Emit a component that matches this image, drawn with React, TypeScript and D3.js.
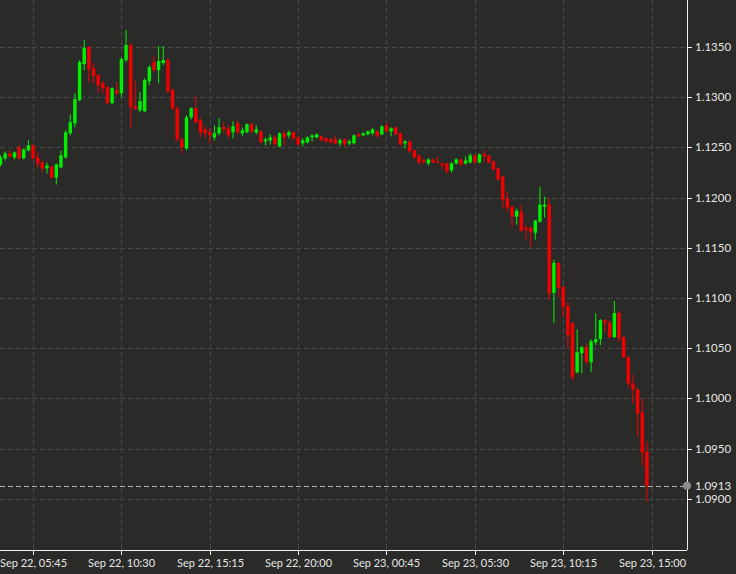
import * as d3 from 'd3';

// GBP/USD 15 min candles, Sep 22 04:00 - Sep 23 14:45 (UTC)
const START = Date.UTC(2022, 8, 22, 4, 0);
const STEP = 15 * 60 * 1000;

const open = [
  1.1233, 1.1239, 1.1244, 1.1240, 1.1250, 1.1239, 1.1247, 1.1252, 1.1240, 1.1235,
  1.1229, 1.1231, 1.1220, 1.1230, 1.1240, 1.1264, 1.1274, 1.1297, 1.1333, 1.1350,
  1.1329, 1.1322, 1.1314, 1.1310, 1.1294, 1.1307, 1.1304, 1.1337, 1.1352, 1.1291,
  1.1287, 1.1286, 1.1316, 1.1335, 1.1327, 1.1334, 1.1337, 1.1307, 1.1289, 1.1258,
  1.1249, 1.1280, 1.1289, 1.1277, 1.1268, 1.1265, 1.1260, 1.1264, 1.1270, 1.1269,
  1.1265, 1.1274, 1.1264, 1.1265, 1.1273, 1.1265, 1.1266, 1.1256, 1.1257, 1.1260,
  1.1251, 1.1264, 1.1262, 1.1265, 1.1260, 1.1254, 1.1255, 1.1260, 1.1260, 1.1261,
  1.1259, 1.1258, 1.1258, 1.1254, 1.1258, 1.1254, 1.1254, 1.1263, 1.1262, 1.1263,
  1.1264, 1.1266, 1.1263, 1.1272, 1.1266, 1.1270, 1.1264, 1.1254, 1.1256, 1.1247,
  1.1242, 1.1237, 1.1234, 1.1238, 1.1236, 1.1234, 1.1234, 1.1227, 1.1234, 1.1238,
  1.1234, 1.1235, 1.1242, 1.1235, 1.1243, 1.1242, 1.1236, 1.1229, 1.1221, 1.1199,
  1.1191, 1.1181, 1.1186, 1.1170, 1.1170, 1.1165, 1.1176, 1.1191, 1.1193, 1.1105,
  1.1135, 1.1111, 1.1092, 1.1075, 1.1026, 1.1045, 1.1051, 1.1036, 1.1056, 1.1059,
  1.1078, 1.1075, 1.1061, 1.1085, 1.1061, 1.1041, 1.1015, 1.1009, 1.0986, 1.0947,
];
const high = [
  1.1242, 1.1246, 1.1247, 1.1246, 1.1252, 1.1249, 1.1257, 1.1253, 1.1245, 1.1237,
  1.1235, 1.1232, 1.1234, 1.1247, 1.1267, 1.1283, 1.1304, 1.1337, 1.1357, 1.1351,
  1.1334, 1.1323, 1.1316, 1.1311, 1.1310, 1.1315, 1.1340, 1.1367, 1.1354, 1.1316,
  1.1305, 1.1319, 1.1332, 1.1341, 1.1351, 1.1351, 1.1339, 1.1309, 1.1291, 1.1260,
  1.1282, 1.1290, 1.1301, 1.1279, 1.1271, 1.1269, 1.1272, 1.1279, 1.1275, 1.1272,
  1.1276, 1.1277, 1.1270, 1.1274, 1.1275, 1.1272, 1.1267, 1.1260, 1.1263, 1.1262,
  1.1265, 1.1266, 1.1267, 1.1266, 1.1261, 1.1259, 1.1261, 1.1263, 1.1264, 1.1262,
  1.1260, 1.1259, 1.1262, 1.1259, 1.1259, 1.1258, 1.1263, 1.1264, 1.1265, 1.1267,
  1.1269, 1.1267, 1.1272, 1.1275, 1.1270, 1.1271, 1.1265, 1.1257, 1.1257, 1.1248,
  1.1243, 1.1239, 1.1239, 1.1239, 1.1241, 1.1235, 1.1235, 1.1235, 1.1239, 1.1239,
  1.1241, 1.1244, 1.1243, 1.1244, 1.1247, 1.1243, 1.1237, 1.1230, 1.1222, 1.1206,
  1.1192, 1.1189, 1.1193, 1.1173, 1.1171, 1.1178, 1.1211, 1.1201, 1.1199, 1.1138,
  1.1136, 1.1112, 1.1096, 1.1076, 1.1069, 1.1052, 1.1055, 1.1059, 1.1085, 1.1079,
  1.1079, 1.1078, 1.1097, 1.1087, 1.1062, 1.1042, 1.1024, 1.1010, 1.0999, 1.0957,
];
const low = [
  1.1231, 1.1237, 1.1240, 1.1238, 1.1238, 1.1238, 1.1246, 1.1238, 1.1230, 1.1225,
  1.1224, 1.1219, 1.1213, 1.1229, 1.1239, 1.1262, 1.1270, 1.1296, 1.1327, 1.1315,
  1.1314, 1.1304, 1.1304, 1.1293, 1.1293, 1.1302, 1.1300, 1.1335, 1.1269, 1.1287,
  1.1285, 1.1285, 1.1312, 1.1325, 1.1314, 1.1332, 1.1304, 1.1287, 1.1256, 1.1244,
  1.1247, 1.1278, 1.1274, 1.1260, 1.1260, 1.1254, 1.1257, 1.1262, 1.1265, 1.1259,
  1.1259, 1.1263, 1.1261, 1.1264, 1.1264, 1.1263, 1.1254, 1.1252, 1.1253, 1.1252,
  1.1250, 1.1252, 1.1259, 1.1258, 1.1252, 1.1251, 1.1254, 1.1256, 1.1259, 1.1256,
  1.1255, 1.1254, 1.1253, 1.1251, 1.1251, 1.1252, 1.1253, 1.1260, 1.1261, 1.1262,
  1.1262, 1.1260, 1.1262, 1.1265, 1.1261, 1.1262, 1.1252, 1.1249, 1.1245, 1.1239,
  1.1233, 1.1234, 1.1232, 1.1234, 1.1234, 1.1228, 1.1224, 1.1225, 1.1233, 1.1232,
  1.1233, 1.1234, 1.1234, 1.1234, 1.1236, 1.1234, 1.1227, 1.1217, 1.1189, 1.1186,
  1.1171, 1.1173, 1.1166, 1.1158, 1.1151, 1.1158, 1.1175, 1.1180, 1.1098, 1.1075,
  1.1101, 1.1081, 1.1051, 1.1018, 1.1025, 1.1025, 1.1034, 1.1026, 1.1053, 1.1053,
  1.1066, 1.1060, 1.1060, 1.1056, 1.1040, 1.1011, 1.0995, 1.0962, 1.0933, 1.0897,
];
const close = [
  1.1240, 1.1244, 1.1241, 1.1245, 1.1239, 1.1248, 1.1252, 1.1239, 1.1234, 1.1229,
  1.1232, 1.1220, 1.1233, 1.1242, 1.1265, 1.1275, 1.1298, 1.1335, 1.1349, 1.1328,
  1.1321, 1.1312, 1.1309, 1.1294, 1.1309, 1.1304, 1.1338, 1.1352, 1.1290, 1.1288,
  1.1296, 1.1317, 1.1330, 1.1327, 1.1336, 1.1337, 1.1306, 1.1289, 1.1258, 1.1250,
  1.1280, 1.1289, 1.1275, 1.1265, 1.1264, 1.1262, 1.1264, 1.1270, 1.1268, 1.1262,
  1.1271, 1.1265, 1.1267, 1.1273, 1.1266, 1.1268, 1.1255, 1.1258, 1.1260, 1.1253,
  1.1264, 1.1260, 1.1265, 1.1259, 1.1253, 1.1257, 1.1260, 1.1262, 1.1263, 1.1257,
  1.1256, 1.1255, 1.1254, 1.1257, 1.1253, 1.1256, 1.1262, 1.1261, 1.1264, 1.1266,
  1.1268, 1.1261, 1.1271, 1.1266, 1.1269, 1.1263, 1.1253, 1.1256, 1.1246, 1.1240,
  1.1235, 1.1235, 1.1238, 1.1235, 1.1235, 1.1232, 1.1226, 1.1234, 1.1238, 1.1233,
  1.1237, 1.1242, 1.1235, 1.1243, 1.1241, 1.1235, 1.1228, 1.1218, 1.1198, 1.1190,
  1.1181, 1.1187, 1.1167, 1.1168, 1.1166, 1.1177, 1.1193, 1.1193, 1.1105, 1.1135,
  1.1110, 1.1091, 1.1063, 1.1021, 1.1046, 1.1051, 1.1036, 1.1057, 1.1059, 1.1078,
  1.1075, 1.1061, 1.1085, 1.1060, 1.1041, 1.1015, 1.1009, 1.0985, 1.0946, 1.0913,
];

const timeTicks = [
  '2022-09-22T05:45:00Z', '2022-09-22T10:30:00Z', '2022-09-22T15:15:00Z', '2022-09-22T20:00:00Z',
  '2022-09-23T00:45:00Z', '2022-09-23T05:30:00Z', '2022-09-23T10:15:00Z', '2022-09-23T15:00:00Z',
];
const priceTicks = [1.09, 1.095, 1.1, 1.105, 1.11, 1.115, 1.12, 1.125, 1.13, 1.135];
const lastPrice = 1.0913;

const W = 736;
const H = 574;
const plotRight = 687;
const plotBottom = 550;

const BG = '#2a2b28';
const GRID = '#474845';
const UP = '#00f000';
const DOWN = '#f00000';
const FONT = 'Lato, "Noto Sans", sans-serif';

export default function App() {
  const x = d3.scaleUtc()
    .domain([START, START + 139 * STEP])
    .range([0.5, 646.9]);
  const y = d3.scaleLinear()
    .domain([1.09, 1.135])
    .range([498.8, 47]);
  const fmtTime = d3.utcFormat('%b %d, %H:%M');
  const fmtPrice = d3.format('.4f');
  const bodyW = 3.4;

  return (
    <svg width={W} height={H} style={{ position: 'fixed', left: 0, top: 0 }}>
      <rect width={W} height={H} fill={BG} />

      {/* grid */}
      {priceTicks.map(p => (
        <line key={'gy' + p} x1={0} x2={plotRight} y1={Math.round(y(p)) + 0.5} y2={Math.round(y(p)) + 0.5}
          stroke={GRID} strokeDasharray="5,3" />
      ))}
      {timeTicks.map(t => {
        const xx = Math.round(x(new Date(t))) + 0.5;
        return <line key={'gx' + t} x1={xx} x2={xx} y1={0} y2={plotBottom} stroke={GRID} strokeDasharray="5,3" />;
      })}

      {/* candles */}
      {open.map((o, i) => {
        const c = close[i];
        const cx = x(START + i * STEP);
        const up = c >= o;
        const col = up ? UP : DOWN;
        const top = y(Math.max(o, c));
        const h = Math.max(1, y(Math.min(o, c)) - top);
        return (
          <g key={i}>
            <line x1={cx} x2={cx} y1={y(high[i])} y2={y(low[i])} stroke={col} strokeWidth={1} />
            <rect x={cx - bodyW / 2} y={top} width={bodyW} height={h} fill={col} />
          </g>
        );
      })}

      {/* last price line */}
      <line x1={0} x2={plotRight} y1={Math.round(y(lastPrice)) + 0.5} y2={Math.round(y(lastPrice)) + 0.5}
        stroke="#b5b5b5" strokeDasharray="5,3" />

      {/* axes */}
      <line x1={plotRight + 0.5} x2={plotRight + 0.5} y1={0} y2={plotBottom} stroke="#f0f0f0" />
      <line x1={0} x2={plotRight} y1={plotBottom + 0.5} y2={plotBottom + 0.5} stroke="#f0f0f0" />
      <circle cx={plotRight} cy={y(lastPrice)} r={4} fill="#8c8c8c" />

      {priceTicks.map(p => (
        <g key={'ty' + p}>
          <line x1={plotRight} x2={plotRight + 5} y1={Math.round(y(p)) + 0.5} y2={Math.round(y(p)) + 0.5} stroke="#f0f0f0" />
          <text x={695} y={y(p)} dy="0.35em" fill="#e6e6e6" fontSize={11.5} fontFamily={FONT}>{fmtPrice(p)}</text>
        </g>
      ))}
      <text x={695} y={y(lastPrice)} dy="0.35em" fill="#e6e6e6" fontSize={11.5} fontFamily={FONT}>{fmtPrice(lastPrice)}</text>

      {timeTicks.map(t => {
        const d = new Date(t);
        const xx = Math.round(x(d)) + 0.5;
        return (
          <g key={'tx' + t}>
            <line x1={xx} x2={xx} y1={plotBottom} y2={plotBottom + 5} stroke="#f0f0f0" />
            <text x={xx} y={567} textAnchor="middle" fill="#e6e6e6" fontSize={11} fontFamily={FONT}>{fmtTime(d)}</text>
          </g>
        );
      })}
    </svg>
  );
}
